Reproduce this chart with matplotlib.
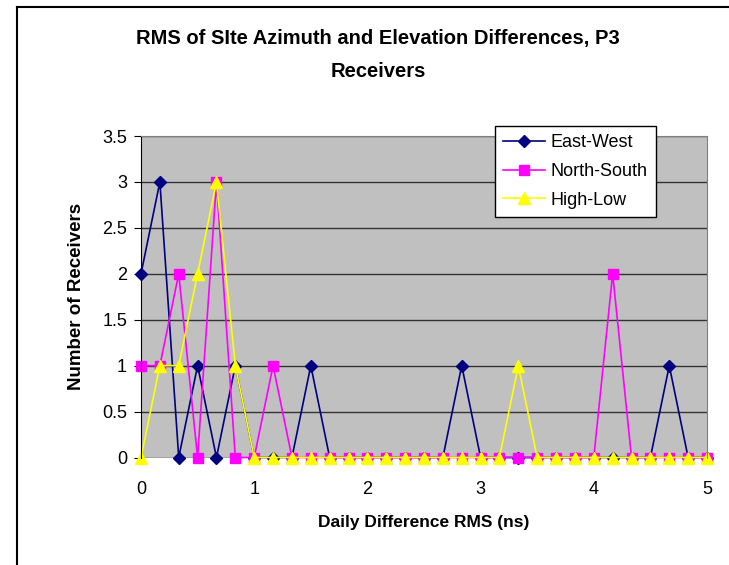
import matplotlib
matplotlib.use("Agg")
import matplotlib.pyplot as plt
from matplotlib.lines import Line2D
import numpy as np

plt.rcParams["font.family"] = ["Liberation Sans", "DejaVu Sans"]

# bin centres, step 1/6 ns
x_vals = np.arange(31) / 6.0

east_west = [2, 3, 0, 1, 0, 1, 0, 0, 0, 1, 0, 0, 0, 0, 0, 0,
             0, 1, 0, 0, 0, 0, 0, 0, 0, 0, 0, 0, 1, 0, 0]
north_south = [1, 1, 2, 0, 3, 0, 0, 1, 0, 0, 0, 0, 0, 0, 0, 0,
               0, 0, 0, 0, 0, 0, 0, 0, 0, 2, 0, 0, 0, 0, 0]
high_low = [0, 1, 1, 2, 3, 1, 0, 0, 0, 0, 0, 0, 0, 0, 0, 0,
            0, 0, 0, 0, 1, 0, 0, 0, 0, 0, 0, 0, 0, 0, 0]

series = [
    ("East-West", east_west, "#000080", "D", 6.5),
    ("North-South", north_south, "#FF00FF", "s", 7),
    ("High-Low", high_low, "#FFFF00", "^", 9),
]

W, H = 729, 565
fig = plt.figure(figsize=(W / 100, H / 100), dpi=100)

# chart-area border (only left and top visible)
fig.add_artist(Line2D([17 / W, 17 / W], [0, 1 - 7 / H], transform=fig.transFigure,
                      color="black", lw=1.5))
fig.add_artist(Line2D([17 / W, 1], [1 - 7 / H, 1 - 7 / H], transform=fig.transFigure,
                      color="black", lw=1.5))

left, right, top, bottom = 141, 707, 136, 457.5
ax = fig.add_axes([left / W, 1 - bottom / H, (right - left) / W, (bottom - top) / H])
ax.set_facecolor("#C0C0C0")

for label, vals, color, marker, ms in series:
    ax.plot(x_vals, vals, color=color, lw=1.2, marker=marker, ms=ms,
            markeredgecolor=color, label=label, clip_on=False)

ax.set_xlim(0, 5)
ax.set_ylim(0, 3.5)
ax.set_yticks(np.arange(0, 3.51, 0.5))
ax.set_yticklabels(["0", "0.5", "1", "1.5", "2", "2.5", "3", "3.5"])
ax.set_xticks(range(6))
ax.grid(axis="y", color="#333333", lw=1)
ax.set_axisbelow(True)

for side in ("top", "right"):
    ax.spines[side].set_color("#808080")
ax.spines["bottom"].set_visible(False)
ax.spines["left"].set_color("black")
ax.tick_params(axis="y", direction="out", length=5, labelsize=13, pad=5)
ax.tick_params(axis="x", direction="out", length=3, labelsize=13, pad=14)

ax.set_xlabel("Daily Difference RMS (ns)", fontsize=12.5, fontweight="bold", labelpad=12)
ax.set_ylabel("Number of Receivers", fontsize=13.5, fontweight="bold", labelpad=12)

fig.text(378 / W, 1 - 55 / H, "RMS of SIte Azimuth and Elevation Differences, P3\nReceivers",
         ha="center", va="center", fontsize=14.5, fontweight="bold", linespacing=1.95)

leg = fig.legend(loc="upper left", bbox_to_anchor=(495 / W, 1 - 126 / H),
                 fontsize=13, frameon=True, fancybox=False, edgecolor="black",
                 framealpha=1, borderaxespad=0, handlelength=2.3, labelspacing=0.65,
                 borderpad=0.45, handletextpad=0.35)
leg.get_frame().set_linewidth(1)

fig.savefig("out.png", dpi=100)
